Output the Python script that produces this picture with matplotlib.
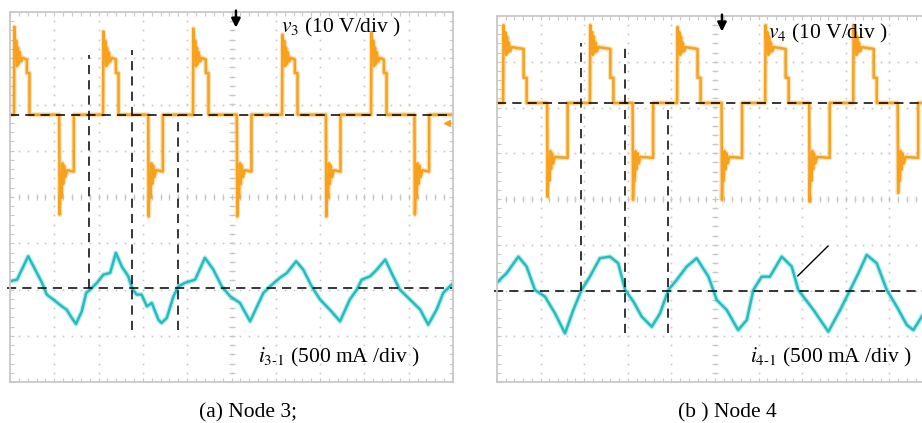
import numpy as np
import matplotlib
matplotlib.use('Agg')
import matplotlib.pyplot as plt

plt.rcParams['font.family'] = ['Liberation Serif', 'DejaVu Serif']
plt.rcParams['mathtext.fontset'] = 'stix'

# time is in screen divisions (10 div across), voltage in V, current in mA
# ---- (a) node 3 ----
a_pos_start = [0.09, 2.10, 4.13, 6.14, 8.15]
a_pos_spike = [19.0, 18.0, 18.6, 17.3, 17.7]
a_neg_start = [1.11, 3.12, 5.12, 7.13, 9.13]
a_neg_spike = [-21.6, -22.0, -22.0, -22.0, -21.6]
a_pos_shape_t = [0.0, 0.01, 0.03, 0.05, 0.07, 0.09, 0.11, 0.13, 0.16, 0.20, 0.29, 0.29, 0.35, 0.35]
a_pos_shape_v = [0.0, 19.0, 13.0, 16.0, 10.5, 14.5, 11.0, 13.5, 11.5, 12.3, 11.9, 9.0, 9.0, 0.0]
a_neg_shape_t = [0.0, 0.01, 0.03, 0.05, 0.07, 0.09, 0.11, 0.14, 0.18, 0.33, 0.33]
a_neg_shape_v = [0.0, -21.6, -13.5, -18.0, -10.5, -15.0, -11.0, -13.5, -12.0, -12.3, 0.0]

a_cur_t = [0.00, 0.16, 0.41, 0.53, 0.72, 0.83, 0.98, 1.17, 1.28, 1.39, 1.49, 1.62,
           1.72, 1.81, 1.96, 2.11, 2.26, 2.39, 2.52, 2.67, 2.76, 2.86, 2.97, 3.09,
           3.20, 3.35, 3.42, 3.54, 3.69, 3.80, 3.95, 4.18, 4.40, 4.59, 4.78, 4.97,
           5.19, 5.42, 5.72, 5.87, 6.09, 6.25, 6.46, 6.62, 6.81, 7.00, 7.22, 7.45,
           7.67, 7.83, 7.94, 8.13, 8.28, 8.47, 8.65, 8.80, 9.03, 9.26, 9.44, 9.63,
           9.78, 9.97]
a_cur_i = [74, 92, 344, 236, 60, -70, -124, -197, -233, -319, -387, -251,
           -52, -16, 56, 146, 164, 381, 236, 128, -9, -70, -70, -197,
           -160, -341, -377, -322, -89, 19, 56, 92, 327, 200, 19, -89,
           -160, -359, -52, 19, 110, 164, 290, 200, 19, -124, -233, -359,
           -124, -16, 92, 128, 200, 308, 128, -16, -124, -233, -395, -233,
           -52, 38]
a_v_zero = 1.78   # div
a_i_zero = -1.97  # div
a_mark_t = [1.78, 2.75, 3.79]
a_mark_top = [3.07, 3.18, 1.78]
a_mark_bot = [-1.97, -2.88, -2.88]

# ---- (b) node 4 ----
b_pos_start = [0.14, 2.13, 4.13, 6.15, 8.17]
b_pos_spike = [17.0, 17.0, 16.6, 17.0, 17.0]
b_neg_start = [1.15, 3.11, 5.15, 7.16, 9.19]
b_neg_spike = [-20.5, -21.2, -21.2, -21.6, -19.7]
b_pos_shape_t = [0.0, 0.01, 0.03, 0.05, 0.07, 0.09, 0.11, 0.13, 0.16, 0.20, 0.47, 0.47, 0.54, 0.54]
b_pos_shape_v = [0.0, 17.0, 12.0, 15.5, 10.5, 14.5, 11.0, 13.2, 11.3, 12.2, 11.8, 5.5, 5.5, 0.0]
b_neg_shape_t = [0.0, 0.01, 0.03, 0.05, 0.07, 0.09, 0.11, 0.14, 0.18, 0.47, 0.47]
b_neg_shape_v = [0.0, -20.5, -13.0, -17.0, -10.5, -14.5, -11.0, -13.2, -11.8, -12.0, 0.0]

b_cur_t = [0.02, 0.22, 0.49, 0.68, 0.87, 1.10, 1.33, 1.56, 1.75, 1.94, 2.13, 2.36,
           2.59, 2.78, 2.94, 3.13, 3.32, 3.55, 3.74, 3.93, 4.12, 4.35, 4.58, 4.85,
           5.04, 5.27, 5.53, 5.73, 5.88, 6.07, 6.26, 6.53, 6.76, 6.91, 7.26, 7.60,
           7.87, 8.10, 8.29, 8.48, 8.71, 8.94, 9.17, 9.40, 9.55, 9.74, 10.0]
b_cur_i = [102, 194, 375, 266, 11, -62, -244, -463, -208, 11, 156, 358,
           375, 303, 11, -117, -281, -391, -244, 11, 120, 266, 358, 156,
           -98, -208, -427, -317, 11, 156, 156, 375, 266, 11, -208, -445,
           -208, 11, 194, 394, 303, 11, -172, -372, -427, -281, -100]
b_v_zero = 2.10
b_i_zero = -2.01
b_mark_t = [1.93, 2.94, 3.92]
b_mark_top = [3.41, 3.33, 2.10]
b_mark_bot = [-2.01, -2.93, -2.93]
b_leader_t = [7.59, 6.90]
b_leader_y = [-1.03, -1.68]

ORANGE = '#F7A11C'
TEAL = '#22BDC0'
GRID = '#c8c8c8'


def pulse_train(pos_start, pos_spike, pos_t, pos_v, neg_start, neg_spike, neg_t, neg_v):
    events = [(s, pos_t, pos_v, p) for s, p in zip(pos_start, pos_spike)]
    events += [(s, neg_t, neg_v, p) for s, p in zip(neg_start, neg_spike)]
    events.sort(key=lambda e: e[0])
    t, v = [0.0], [0.0]
    for s, st, sv, p in events:
        vv = list(sv)
        vv[1] = p
        t += [s + x for x in st]
        v += vv
    t.append(10.0)
    v.append(0.0)
    return np.array(t), np.array(v)


def scope_grid(ax):
    ax.set_xlim(0, 10)
    ax.set_ylim(-4, 4)
    for s in ax.spines.values():
        s.set_color(GRID)
        s.set_linewidth(1.3)
    ax.set_xticks(range(11))
    ax.set_yticks(range(-4, 5))
    ax.set_xticks(np.arange(0, 10.01, 0.2), minor=True)
    ax.set_yticks(np.arange(-4, 4.01, 0.2), minor=True)
    ax.tick_params(which='both', direction='in', top=True, right=True,
                   labelbottom=False, labelleft=False, color=GRID, length=3, width=0.8)
    fx = np.arange(0, 10.01, 0.2)
    fy = np.arange(-4, 4.01, 0.2)
    for k in range(1, 10):
        ax.plot(np.full_like(fy, k), fy, ls='none', marker='s', ms=1.2, mew=0, color=GRID)
    for k in range(-3, 4):
        ax.plot(fx, np.full_like(fx, k), ls='none', marker='s', ms=1.2, mew=0, color=GRID)
    ax.plot(fx, np.zeros_like(fx), ls='none', marker='|', ms=5, mew=0.9, color=GRID)
    ax.plot(np.full_like(fy, 5), fy, ls='none', marker='_', ms=5, mew=0.9, color=GRID)


def trace(ax, t, y, color):
    ax.plot(t, y, color=color, lw=3.6, alpha=0.3)
    ax.plot(t, y, color=color, lw=1.8)


def draw_panel(ax, vt, vv, v_zero, ct, ci, i_zero, mt, mtop, mbot, arrow_t):
    scope_grid(ax)
    trace(ax, vt, vv / 10.0 + v_zero, ORANGE)
    trace(ax, ct, np.array(ci) / 500.0 + i_zero, TEAL)
    ax.plot([0, 10], [v_zero, v_zero], color='black', lw=1.1, dashes=(6, 4))
    ax.plot([-0.06, 10], [i_zero, i_zero], color='black', lw=1.1, dashes=(6, 4), clip_on=False)
    ax.vlines(mt, mbot, mtop, colors='black', lw=1.1, linestyles=(0, (6, 4)))
    ax.annotate('', xy=(arrow_t, 3.66), xytext=(arrow_t, 4.03),
                arrowprops=dict(arrowstyle='-|>', color='black', lw=1.8, mutation_scale=13,
                                shrinkA=0, shrinkB=0), annotation_clip=False)


fig = plt.figure(figsize=(9.22, 4.23), dpi=100)
W, H = 922.0, 423.0
ax_a = fig.add_axes([10 / W, (H - 382) / H, 443 / W, 370 / H])
ax_b = fig.add_axes([497 / W, (H - 382) / H, 436 / W, 366 / H])

vt, vv = pulse_train(a_pos_start, a_pos_spike, a_pos_shape_t, a_pos_shape_v,
                     a_neg_start, a_neg_spike, a_neg_shape_t, a_neg_shape_v)
draw_panel(ax_a, vt, vv, a_v_zero, a_cur_t, a_cur_i, a_i_zero,
           a_mark_t, a_mark_top, a_mark_bot, 5.10)
ax_a.plot([9.86], [1.6], marker='<', ms=5, color=ORANGE, clip_on=False)

vt, vv = pulse_train(b_pos_start, b_pos_spike, b_pos_shape_t, b_pos_shape_v,
                     b_neg_start, b_neg_spike, b_neg_shape_t, b_neg_shape_v)
draw_panel(ax_b, vt, vv, b_v_zero, b_cur_t, b_cur_i, b_i_zero,
           b_mark_t, b_mark_top, b_mark_bot, 5.16)
ax_b.plot(b_leader_t, b_leader_y, color='black', lw=1.0)

fs = 15.5
fig.text(281 / W, 1 - 27 / H, r'$v_3$ (10 V/div )', fontsize=fs, va='center', ha='left')
fig.text(258 / W, 1 - 357 / H, r'$i_{3\text{-}1}$ (500 mA /div )', fontsize=fs, va='center', ha='left')
fig.text(768 / W, 1 - 33 / H, r'$v_4$ (10 V/div )', fontsize=fs, va='center', ha='left')
fig.text(750 / W, 1 - 357 / H, r'$i_{4\text{-}1}$ (500 mA /div )', fontsize=fs, va='center', ha='left')
fig.text(248 / W, 1 - 413 / H, '(a) Node 3;', fontsize=fs, va='center', ha='center')
fig.text(727 / W, 1 - 413 / H, '(b ) Node 4', fontsize=fs, va='center', ha='center')

fig.savefig('out.png', dpi=100)
